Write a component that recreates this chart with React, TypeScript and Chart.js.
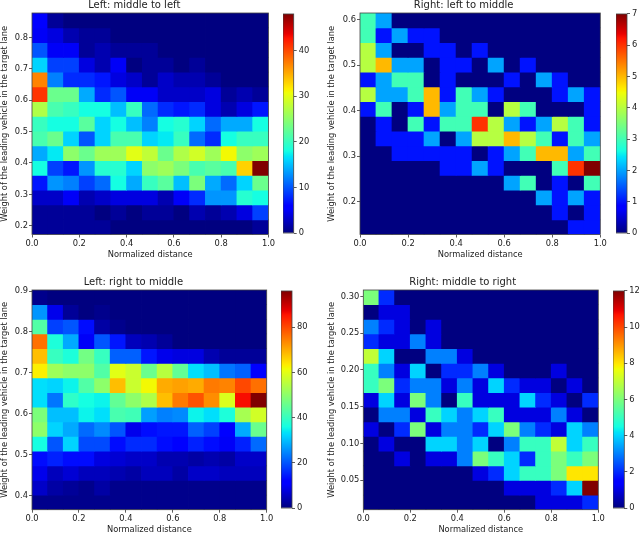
import React, { useEffect, useRef } from "react";
import { Chart, registerables } from "chart.js";

Chart.register(...registerables);

const FONT = "'DejaVu Sans', sans-serif";

const xTicks = [0, 0.2, 0.4, 0.6, 0.8, 1.0];
const binCount = 15;

// rows run from the top of each heatmap to the bottom
const leftMiddleToLeft = [
  [6, 1, 0, 0, 0, 0, 0, 0, 0, 0, 0, 0, 0, 0, 0],
  [5, 4, 2, 1, 1, 0, 0, 0, 0, 0, 0, 0, 0, 0, 0],
  [10, 5, 5, 1, 2, 1, 1, 1, 0, 0, 0, 0, 0, 0, 0],
  [16, 9, 9, 4, 2, 5, 0, 1, 1, 0, 1, 0, 0, 0, 0],
  [37, 12, 8, 8, 7, 4, 3, 1, 3, 2, 2, 1, 0, 0, 0],
  [41, 23, 23, 14, 8, 10, 5, 5, 3, 3, 3, 4, 1, 2, 1],
  [27, 21, 20, 18, 18, 15, 20, 11, 8, 7, 8, 4, 2, 4, 7],
  [20, 18, 18, 22, 16, 18, 15, 12, 18, 19, 16, 11, 14, 14, 18],
  [21, 23, 16, 10, 16, 21, 21, 16, 17, 20, 11, 8, 18, 20, 20],
  [14, 17, 25, 23, 26, 26, 30, 28, 23, 27, 29, 26, 31, 25, 26],
  [18, 9, 7, 13, 19, 19, 16, 25, 26, 24, 21, 22, 21, 33, 48],
  [7, 13, 12, 9, 11, 18, 14, 20, 22, 15, 24, 14, 11, 16, 23],
  [3, 3, 5, 2, 3, 4, 4, 4, 2, 5, 8, 13, 13, 19, 18],
  [1, 1, 1, 1, 0, 1, 0, 1, 1, 0, 2, 1, 2, 4, 9],
  [1, 1, 1, 1, 1, 0, 0, 0, 0, 0, 0, 0, 0, 0, 1],
];

const rightLeftToMiddle = [
  [3, 2, 0, 0, 0, 0, 0, 0, 0, 0, 0, 0, 0, 0, 0],
  [3, 1, 2, 1, 1, 0, 0, 0, 0, 0, 0, 0, 0, 0, 0],
  [4, 2, 0, 0, 1, 1, 0, 1, 0, 0, 0, 0, 0, 0, 0],
  [4, 5, 2, 2, 0, 1, 1, 0, 2, 0, 1, 0, 0, 0, 0],
  [1, 2, 3, 3, 0, 1, 0, 0, 0, 1, 0, 2, 1, 0, 0],
  [4, 2, 2, 3, 5, 1, 3, 2, 1, 0, 0, 0, 1, 2, 1],
  [1, 3, 0, 1, 5, 2, 3, 3, 0, 4, 3, 0, 0, 0, 1],
  [0, 1, 0, 3, 1, 3, 3, 6, 4, 2, 1, 2, 4, 3, 1],
  [0, 1, 1, 1, 2, 0, 2, 4, 4, 5, 4, 3, 1, 3, 2],
  [0, 0, 1, 1, 1, 1, 1, 0, 1, 2, 3, 5, 5, 2, 3],
  [0, 0, 0, 0, 0, 1, 1, 2, 1, 0, 0, 0, 3, 6, 7],
  [0, 0, 0, 0, 0, 0, 0, 0, 0, 2, 3, 0, 1, 0, 3],
  [0, 0, 0, 0, 0, 0, 0, 0, 0, 0, 0, 2, 1, 2, 1],
  [0, 0, 0, 0, 0, 0, 0, 0, 0, 0, 0, 0, 1, 0, 1],
  [0, 0, 0, 0, 0, 0, 0, 0, 0, 0, 0, 0, 0, 1, 1],
];

const leftRightToMiddle = [
  [1, 0, 0, 0, 0, 0, 0, 0, 0, 0, 0, 0, 0, 0, 0],
  [26, 9, 2, 0, 1, 0, 0, 0, 0, 0, 0, 0, 0, 0, 0],
  [43, 18, 20, 13, 3, 1, 0, 0, 0, 0, 0, 0, 0, 0, 0],
  [76, 37, 28, 10, 20, 14, 5, 4, 2, 0, 0, 0, 0, 0, 0],
  [68, 40, 37, 47, 40, 21, 21, 14, 9, 8, 8, 4, 2, 2, 2],
  [63, 52, 50, 50, 43, 60, 57, 46, 55, 45, 33, 30, 23, 21, 12],
  [33, 32, 35, 43, 50, 68, 57, 62, 70, 71, 70, 75, 74, 80, 76],
  [33, 23, 39, 36, 35, 45, 50, 54, 68, 75, 79, 73, 59, 86, 96],
  [48, 30, 30, 35, 33, 42, 41, 27, 24, 25, 35, 33, 37, 53, 58],
  [50, 32, 28, 22, 25, 20, 9, 13, 14, 14, 21, 18, 11, 28, 46],
  [36, 20, 32, 19, 19, 13, 16, 16, 13, 11, 15, 13, 10, 15, 22],
  [13, 15, 13, 13, 8, 7, 6, 6, 4, 4, 3, 4, 3, 6, 6],
  [9, 5, 7, 5, 5, 4, 3, 5, 5, 3, 6, 6, 5, 5, 5],
  [6, 3, 2, 1, 3, 1, 1, 1, 1, 1, 1, 1, 1, 1, 1],
  [1, 1, 1, 1, 1, 1, 1, 1, 1, 1, 1, 1, 1, 1, 1],
];

const rightMiddleToRight = [
  [6, 2, 0, 0, 0, 0, 0, 0, 0, 0, 0, 0, 0, 0, 0],
  [0, 1, 1, 0, 0, 0, 0, 0, 0, 0, 0, 0, 0, 0, 0],
  [3, 2, 1, 0, 1, 0, 0, 0, 0, 0, 0, 0, 0, 0, 0],
  [2, 1, 1, 3, 1, 0, 0, 0, 0, 0, 0, 0, 0, 0, 0],
  [7, 4, 0, 0, 3, 3, 1, 0, 0, 0, 0, 0, 0, 0, 0],
  [5, 3, 1, 4, 0, 2, 2, 3, 1, 0, 0, 0, 1, 0, 0],
  [5, 6, 2, 3, 3, 1, 3, 1, 4, 2, 1, 1, 0, 1, 0],
  [1, 4, 1, 6, 3, 0, 5, 1, 1, 1, 4, 2, 1, 0, 2],
  [0, 3, 3, 1, 5, 4, 3, 4, 5, 1, 1, 1, 3, 1, 0],
  [1, 0, 2, 6, 1, 3, 3, 2, 4, 6, 3, 2, 1, 4, 3],
  [0, 1, 0, 0, 4, 4, 3, 4, 0, 3, 5, 5, 7, 4, 5],
  [0, 0, 1, 0, 1, 1, 3, 6, 5, 4, 2, 5, 6, 5, 6],
  [0, 0, 0, 0, 0, 0, 0, 1, 2, 4, 5, 5, 6, 8, 8],
  [0, 0, 0, 0, 0, 0, 0, 0, 0, 1, 1, 1, 2, 4, 12],
  [0, 0, 0, 0, 0, 0, 0, 0, 0, 0, 0, 1, 1, 1, 2],
];

const panel1YTicks = [0.2, 0.3, 0.4, 0.5, 0.6, 0.7, 0.8];
const panel2YTicks = [0.2, 0.3, 0.4, 0.5, 0.6];
const panel3YTicks = [0.4, 0.5, 0.6, 0.7, 0.8, 0.9];
const panel4YTicks = [0.05, 0.1, 0.15, 0.2, 0.25, 0.3];

const panel1Bar = [0, 10, 20, 30, 40];
const panel2Bar = [0, 1, 2, 3, 4, 5, 6, 7];
const panel3Bar = [0, 20, 40, 60, 80];
const panel4Bar = [0, 2, 4, 6, 8, 10, 12];

type Panel = {
  title: string;
  rows: number[][];
  yMin: number;
  yMax: number;
  yTicks: number[];
  yDigits: number;
  vMax: number;
  barTicks: number[];
  canvasLeft: number;
  plot: [number, number, number, number]; // left, top, right, bottom
  bar: [number, number]; // left, right
};

const panels: Panel[] = [
  {
    title: "Left: middle to left",
    rows: leftMiddleToLeft,
    yMin: 0.172,
    yMax: 0.878,
    yTicks: panel1YTicks,
    yDigits: 1,
    vMax: 48,
    barTicks: panel1Bar,
    canvasLeft: 0,
    plot: [32, 13.3, 268.5, 234.5],
    bar: [283.3, 294],
  },
  {
    title: "Right: left to middle",
    rows: rightLeftToMiddle,
    yMin: 0.128,
    yMax: 0.615,
    yTicks: panel2YTicks,
    yDigits: 1,
    vMax: 7,
    barTicks: panel2Bar,
    canvasLeft: 327,
    plot: [360, 13.3, 600.3, 234.5],
    bar: [616, 627],
  },
  {
    title: "Left: right to middle",
    rows: leftRightToMiddle,
    yMin: 0.365,
    yMax: 0.9025,
    yTicks: panel3YTicks,
    yDigits: 1,
    vMax: 96,
    barTicks: panel3Bar,
    canvasLeft: 0,
    plot: [32, 290.3, 266.7, 509.7],
    bar: [281.3, 292.3],
  },
  {
    title: "Right: middle to right",
    rows: rightMiddleToRight,
    yMin: 0.01,
    yMax: 0.3087,
    yTicks: panel4YTicks,
    yDigits: 2,
    vMax: 12,
    barTicks: panel4Bar,
    canvasLeft: 327,
    plot: [363.3, 290.3, 598.3, 509.7],
    bar: [612.7, 624],
  },
];

const JET_R: [number, number][] = [[0, 0], [0.35, 0], [0.66, 1], [0.89, 1], [1, 0.5]];
const JET_G: [number, number][] = [[0, 0], [0.125, 0], [0.375, 1], [0.64, 1], [0.91, 0], [1, 0]];
const JET_B: [number, number][] = [[0, 0.5], [0.11, 1], [0.34, 1], [0.65, 0], [1, 0]];

function channel(stops: [number, number][], t: number) {
  for (let i = 1; i < stops.length; i++) {
    if (t <= stops[i][0]) {
      const [a, va] = stops[i - 1];
      const [b, vb] = stops[i];
      return va + ((vb - va) * (t - a)) / (b - a);
    }
  }
  return stops[stops.length - 1][1];
}

function jet(t: number) {
  const c = Math.max(0, Math.min(1, t));
  const f = (s: [number, number][]) => Math.round(channel(s, c) * 255);
  return `rgb(${f(JET_R)},${f(JET_G)},${f(JET_B)})`;
}

const JET_STOPS = [0, 0.11, 0.125, 0.34, 0.35, 0.375, 0.64, 0.65, 0.66, 0.89, 0.91, 1];

const frame = {
  id: "frame",
  afterDatasetsDraw(chart: any) {
    const { ctx, chartArea: a } = chart;
    ctx.save();
    ctx.strokeStyle = "#444";
    ctx.lineWidth = 0.8;
    ctx.strokeRect(a.left, a.top, a.right - a.left, a.bottom - a.top);
    ctx.restore();
  },
};

const TEXT = "#222";
const TICK_SIZE = 8.3;

function heatmapConfig(p: Panel, canvasW: number, canvasH: number, canvasTop: number) {
  const [pl, , pr, pb] = p.plot;
  const span = (p.yMax - p.yMin) / p.rows.length;
  const datasets = p.rows.map((row, r) => {
    const hi = p.yMax - r * span;
    const lo = hi - span;
    return {
      data: row.map((_, c) => ({ x: (c + 0.5) / binCount, y: [lo, hi] })),
      backgroundColor: row.map((v) => jet(v / p.vMax)),
      borderWidth: 0,
      inflateAmount: 0.4,
      grouped: false,
      barPercentage: 1,
      categoryPercentage: 1,
    };
  });
  return {
    type: "bar",
    data: { datasets },
    plugins: [frame],
    options: {
      animation: false,
      responsive: false,
      events: [],
      layout: { padding: { left: 0, top: 0, bottom: 0, right: canvasW - (pr - p.canvasLeft) } },
      plugins: {
        legend: { display: false },
        tooltip: { enabled: false },
        title: {
          display: true,
          text: p.title,
          color: TEXT,
          font: { family: FONT, size: 10, weight: "normal", lineHeight: 1.2 },
          padding: { top: 0, bottom: 2 },
        },
      },
      scales: {
        x: {
          type: "linear",
          min: 0,
          max: 1,
          offset: false,
          afterBuildTicks: (s: any) => {
            s.ticks = xTicks.map((value) => ({ value }));
          },
          afterFit: (s: any) => {
            s.height = canvasH - (pb - canvasTop);
          },
          grid: { display: true, offset: false, drawOnChartArea: false, tickLength: 3, tickColor: "#333", tickWidth: 0.8 },
          border: { display: false },
          ticks: {
            color: TEXT,
            maxRotation: 0,
            padding: 1,
            font: { family: FONT, size: TICK_SIZE },
            callback: (v: number) => Number(v).toFixed(1),
          },
          title: {
            display: true,
            text: "Normalized distance",
            color: TEXT,
            font: { family: FONT, size: TICK_SIZE, lineHeight: 1.2 },
            padding: 0,
          },
        },
        y: {
          type: "linear",
          min: p.yMin,
          max: p.yMax,
          afterBuildTicks: (s: any) => {
            s.ticks = p.yTicks.map((value) => ({ value }));
          },
          afterFit: (s: any) => {
            s.width = pl - p.canvasLeft;
          },
          grid: { display: true, drawOnChartArea: false, tickLength: 3, tickColor: "#333", tickWidth: 0.8 },
          border: { display: false },
          ticks: {
            color: TEXT,
            padding: 1,
            font: { family: FONT, size: TICK_SIZE },
            callback: (v: number) => Number(v).toFixed(p.yDigits),
          },
          title: {
            display: true,
            text: "Weight of the leading vehicle in the target lane",
            color: TEXT,
            font: { family: FONT, size: TICK_SIZE, lineHeight: 1.2 },
            padding: 0,
          },
        },
      },
    },
  };
}

function barConfig(p: Panel, canvasW: number, barW: number) {
  return {
    type: "bar",
    data: {
      labels: [""],
      datasets: [
        {
          data: [[0, p.vMax]],
          borderWidth: 0,
          barPercentage: 1,
          categoryPercentage: 1,
          backgroundColor: (ctx: any) => {
            const { chart } = ctx;
            const a = chart.chartArea;
            if (!a) return "#000";
            const g = chart.ctx.createLinearGradient(0, a.bottom, 0, a.top);
            JET_STOPS.forEach((t) => g.addColorStop(t, jet(t)));
            return g;
          },
        },
      ],
    },
    plugins: [frame],
    options: {
      animation: false,
      responsive: false,
      events: [],
      layout: { padding: { top: 6, bottom: 6, left: 0, right: 0 } },
      plugins: { legend: { display: false }, tooltip: { enabled: false } },
      scales: {
        x: { display: false },
        y: {
          position: "right",
          min: 0,
          max: p.vMax,
          afterBuildTicks: (s: any) => {
            s.ticks = p.barTicks.map((value) => ({ value }));
          },
          afterFit: (s: any) => {
            s.width = canvasW - barW;
          },
          grid: { display: true, drawOnChartArea: false, tickLength: 3, tickColor: "#333", tickWidth: 0.8 },
          border: { display: false },
          ticks: {
            color: TEXT,
            padding: 2,
            font: { family: FONT, size: TICK_SIZE },
            callback: (v: number) => String(v),
          },
        },
      },
    },
  };
}

function ChartCanvas({ config, left, top, width, height }: any) {
  const ref = useRef<HTMLCanvasElement | null>(null);
  useEffect(() => {
    const chart = new Chart(ref.current as any, config());
    return () => chart.destroy();
  }, []);
  return (
    <canvas
      ref={ref}
      width={width}
      height={height}
      style={{ position: "absolute", left, top, width, height, display: "block" }}
    />
  );
}

export default function App() {
  return (
    <div
      style={{
        position: "fixed",
        left: 0,
        top: 0,
        width: 640,
        height: 533,
        overflow: "hidden",
        background: "#fff",
        filter: "blur(0.45px)",
      }}
    >
      {panels.map((p) => {
        const [, pt, pr, pb] = p.plot;
        const top = Math.round(pt - 14);
        const height = Math.round(pb + 25.5 - top);
        const width = Math.ceil(pr + 10 - p.canvasLeft);
        const barWidth = 34 + (p.bar[1] - p.bar[0]);
        const barH = Math.round(pb - pt + 12);
        return (
          <React.Fragment key={p.title}>
            <ChartCanvas
              config={() => heatmapConfig(p, width, height, top)}
              left={p.canvasLeft}
              top={top}
              width={width}
              height={height}
            />
            <ChartCanvas
              config={() => barConfig(p, Math.round(barWidth), p.bar[1] - p.bar[0])}
              left={p.bar[0]}
              top={pt - 6}
              width={Math.round(barWidth)}
              height={barH}
            />
          </React.Fragment>
        );
      })}
    </div>
  );
}
